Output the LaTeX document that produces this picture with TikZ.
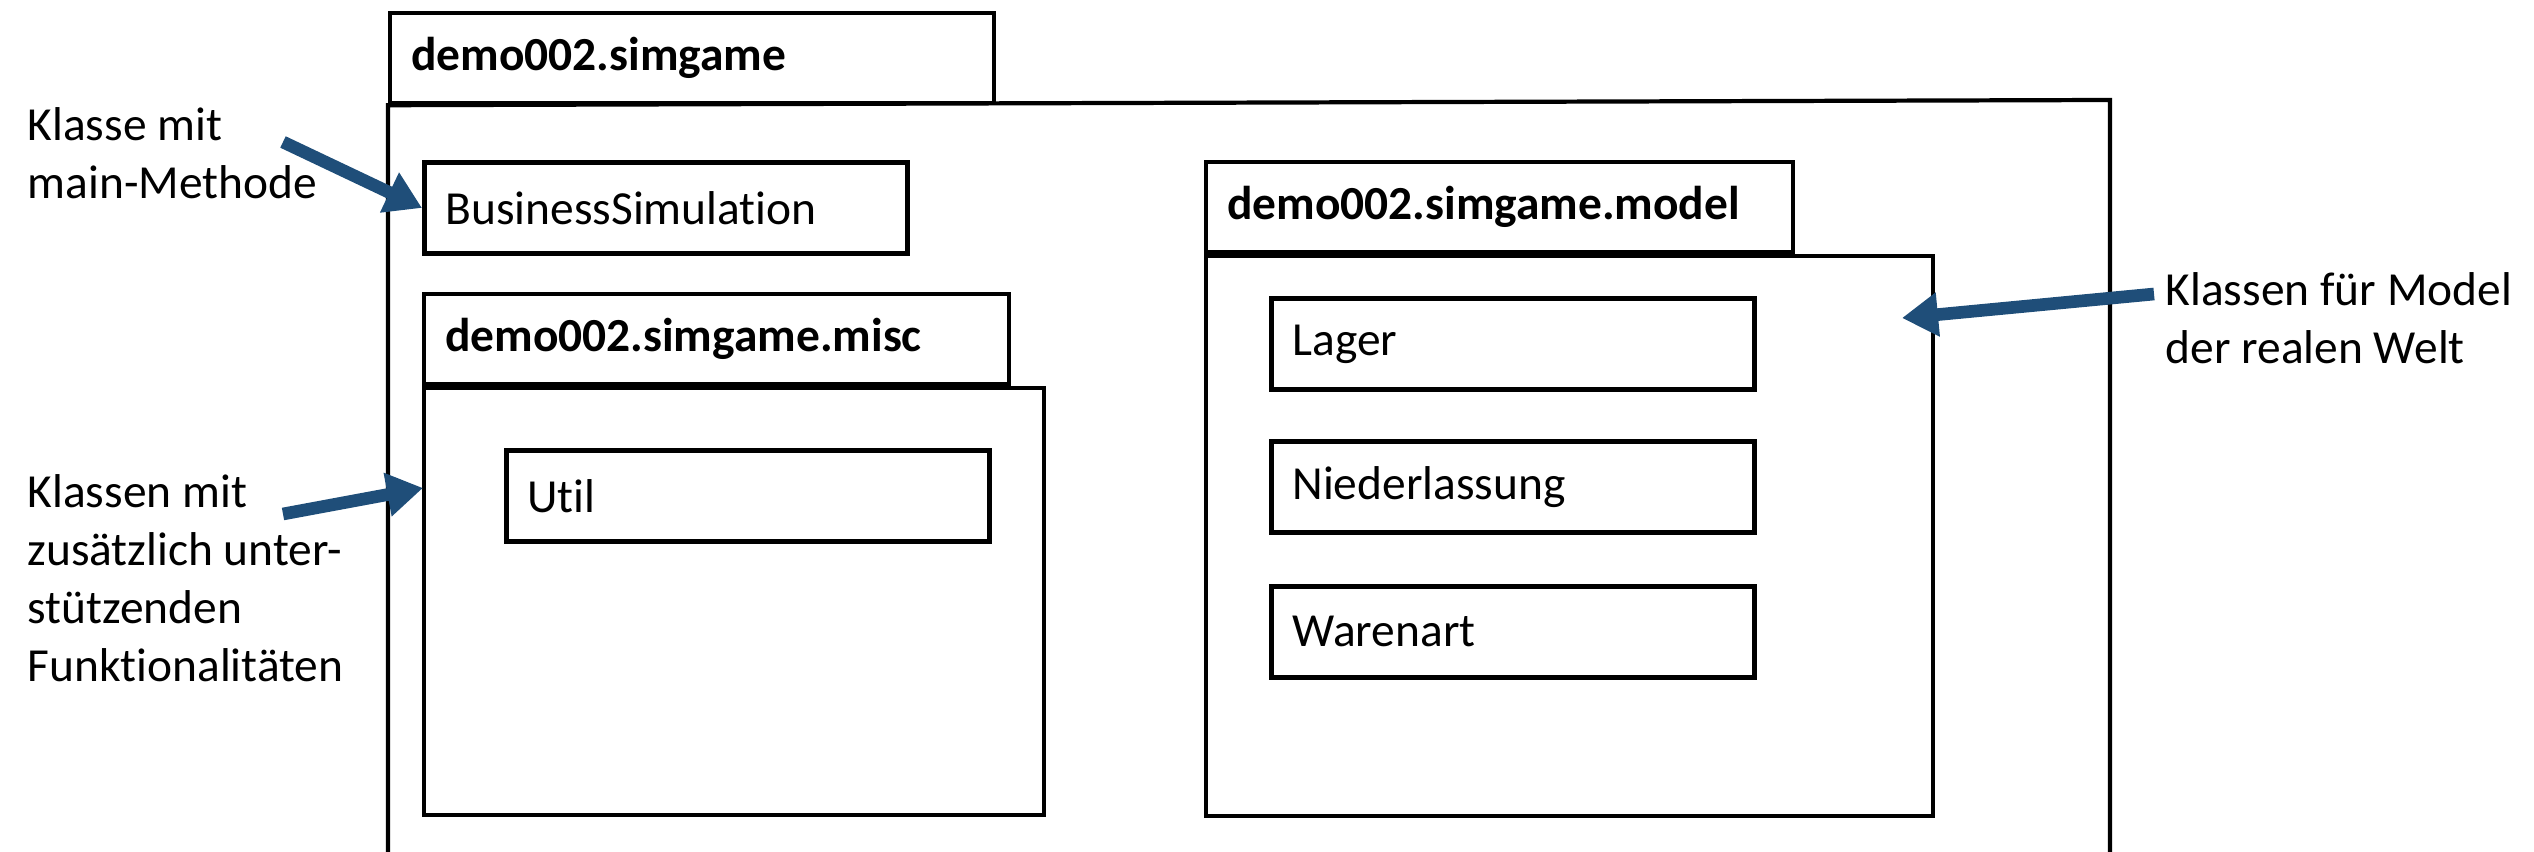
\documentclass[tikz,border=0pt]{standalone}
\usepackage{fontspec}
\setmainfont{Carlito}[RawFeature=-liga]
\usepackage{tikz}
\usetikzlibrary{positioning, arrows.meta}
\definecolor{nblue}{HTML}{1F4E79}

\begin{document}
\begin{tikzpicture}[
    every node/.style={font=\fontsize{13.5}{16.5}\selectfont},
    pkgtab/.style={rectangle, draw, line width=1.2pt, anchor=north west, minimum height=0.9cm, inner xsep=0.21cm, text width=#1, align=left, font=\fontsize{13.5}{16.5}\selectfont\bfseries},
    pkgbody/.style={rectangle, draw, line width=1.2pt, anchor=north west},
    cls/.style={rectangle, draw, line width=1.4pt, anchor=north west, minimum width=4.83cm, minimum height=0.91cm, inner xsep=0.21cm, text width=4.41cm, align=left},
    note/.style={align=left, anchor=north west, inner sep=0pt},
    arr/.style={-{Triangle[length=0.36cm, width=0.42cm]}, line width=3.6pt, nblue},
]
\useasboundingbox (0,0) rectangle (25.34,-8.52);

% outer package
\node[pkgtab=5.62cm] (simtab) at (3.88,-0.11) {demo002.simgame};
\draw[line width=1.2pt] (3.88,-8.52) -- (simtab.south west) -- (21.10,-1.00) -- (21.10,-8.52);

\node[cls] (bsim) at (4.22,-1.60) {BusinessSimulation};

% misc package
\node[pkgtab=5.43cm] (misctab) at (4.22,-2.92) {demo002.simgame.misc};
\node[pkgbody, minimum width=6.20cm, minimum height=4.27cm] (miscbody) at (misctab.south west) {};
\node[cls] (util) at (5.04,-4.48) {Util};

% model package
\node[pkgtab=5.45cm] (modeltab) at (12.04,-1.60) {demo002.simgame.model};
\node[pkgbody, minimum width=7.27cm, minimum height=5.60cm] (modelbody) at (modeltab.south west) {};
\node[cls] (lager) at (12.69,-2.96) {Lager};
\node[cls, below=0.47cm of lager] (nieder) {Niederlassung};
\node[cls, below=0.49cm of nieder] (waren) {Warenart};

% notes
\node[note] (lmain) at (0.27,-1.07) {Klasse mit\\main-Methode};
\node[note] (lmisc) at (0.27,-4.74) {Klassen mit\\zusätzlich unter-\\stützenden\\Funktionalitäten};
\node[note] (lmodel) at (21.65,-2.72) {Klassen für Model\\der realen Welt};

\coordinate (amain) at (2.83,-1.42);
\coordinate (amisc) at (2.83,-5.14);
\coordinate (tmisc) at (4.23,-4.88);
\coordinate (amodel) at (21.54,-2.94);
\coordinate (tmodel) at (19.02,-3.18);

\draw[arr] (amain) -- (bsim.west);
\draw[arr] (amisc) -- (tmisc);
\draw[arr] (amodel) -- (tmodel);
\end{tikzpicture}
\end{document}
